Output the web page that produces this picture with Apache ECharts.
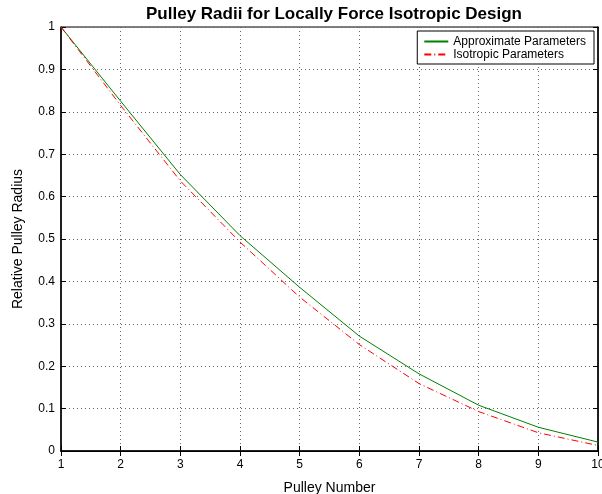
<!DOCTYPE html>
<html><head><meta charset="utf-8">
<script src="https://cdn.jsdelivr.net/npm/echarts@6/dist/echarts.min.js"></script>
<style>html,body{margin:0;padding:0;background:#fff}#c{width:602px;height:494px}</style>
</head><body><div id="c"></div>
<script>
const pulleyNumbers = [1, 2, 3, 4, 5, 6, 7, 8, 9, 10];
const approximateParams = [1.0, 0.825, 0.652, 0.508, 0.386, 0.271, 0.182, 0.108, 0.056, 0.021];
const isotropicParams   = [1.0, 0.815, 0.637, 0.493, 0.363, 0.251, 0.159, 0.093, 0.043, 0.013];
const seriesNames = ['Approximate Parameters', 'Isotropic Parameters'];

const font = 'Liberation Sans, Arial, Helvetica, sans-serif';
const chart = echarts.init(document.getElementById('c'), null, {renderer: 'canvas'});
const tickCommon = {show: true, inside: true, length: 5, lineStyle: {color: '#000', width: 1}};
chart.setOption({
  animation: false,
  title: {text: 'Pulley Radii for Locally Force Isotropic Design', left: 329, top: 1, textAlign: 'center',
    textStyle: {fontFamily: font, fontSize: 17, fontWeight: 'bold', color: '#000'}},
  grid: {left: 61, right: 4, top: 27, bottom: 43, show: true, borderColor: '#000', borderWidth: 1,
    outerBoundsMode: 'none', containLabel: false},
  legend: {right: 8, top: 31, orient: 'vertical', itemGap: 0, itemWidth: 24, itemHeight: 10,
    backgroundColor: '#fff', borderColor: '#000', borderWidth: 1, padding: [4, 8, 3, 6],
    itemStyle: {opacity: 0},
    textStyle: {fontFamily: font, fontSize: 12, color: '#000', lineHeight: 13}, data: seriesNames},
  xAxis: [{
    type: 'value', min: 1, max: 10, interval: 1, position: 'bottom',
    name: 'Pulley Number', nameLocation: 'middle', nameGap: 30,
    nameTextStyle: {fontFamily: font, fontSize: 14, color: '#000'},
    axisLine: {show: true, lineStyle: {color: '#000', width: 1.5}},
    axisTick: tickCommon,
    axisLabel: {fontFamily: font, fontSize: 12, color: '#000', margin: 8},
    splitLine: {show: true, lineStyle: {color: '#666', type: [1, 3], width: 1}}
  }, {
    type: 'value', min: 1, max: 10, interval: 1, position: 'top',
    axisLine: {show: true, lineStyle: {color: '#000', width: 1}},
    axisTick: tickCommon, axisLabel: {show: false}, splitLine: {show: false}
  }],
  yAxis: [{
    type: 'value', min: 0, max: 1, interval: 0.1, position: 'left',
    name: 'Relative Pulley Radius', nameLocation: 'middle', nameGap: 36,
    nameTextStyle: {fontFamily: font, fontSize: 14, color: '#000'},
    axisLine: {show: true, lineStyle: {color: '#000', width: 1.5}},
    axisTick: tickCommon,
    axisLabel: {fontFamily: font, fontSize: 12, color: '#000', margin: 6,
      formatter: v => String(Math.round(v * 10) / 10)},
    splitLine: {show: true, lineStyle: {color: '#666', type: [1, 3], width: 1}}
  }, {
    type: 'value', min: 0, max: 1, interval: 0.1, position: 'right',
    axisLine: {show: true, lineStyle: {color: '#000', width: 1.5}},
    axisTick: tickCommon, axisLabel: {show: false}, splitLine: {show: false}
  }],
  series: [{
    name: seriesNames[0], type: 'line', symbol: 'none', showSymbol: false,
    data: pulleyNumbers.map((x, i) => [x, approximateParams[i]]),
    lineStyle: {color: '#008000', width: 1}, itemStyle: {color: '#008000'}
  }, {
    name: seriesNames[1], type: 'line', symbol: 'none', showSymbol: false,
    data: pulleyNumbers.map((x, i) => [x, isotropicParams[i]]),
    lineStyle: {color: '#ff0000', width: 1, type: [7, 3, 1, 3]}, itemStyle: {color: '#ff0000'}
  }]
});
</script></body></html>
